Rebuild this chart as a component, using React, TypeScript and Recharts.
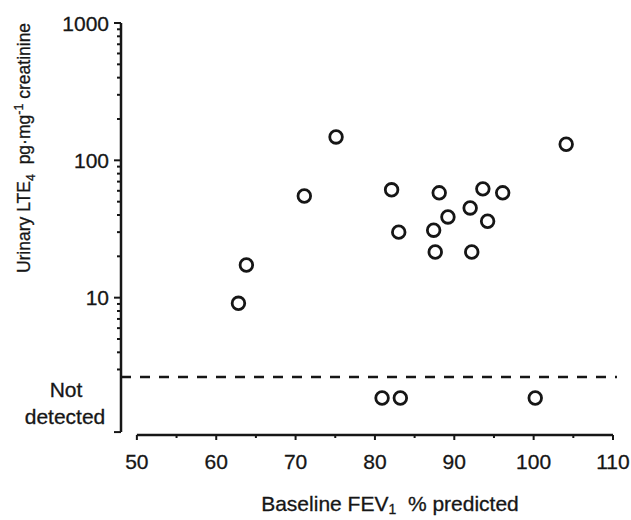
import React from 'react'
import { ScatterChart, Scatter, XAxis, YAxis, ReferenceLine } from 'recharts'

// baseline FEV1 (% predicted) vs urinary LTE4 (pg/mg creatinine)
const fevDetected = [75.1, 104.1, 71.1, 82.1, 88.1, 93.6, 96.1, 92.0, 89.2, 94.2, 83.0, 87.4, 87.6, 92.2, 63.8, 62.8]
const lteDetected = [148, 131, 55, 61, 58, 62, 58, 45, 38.7, 36, 30, 31, 21.5, 21.5, 17.3, 9.1]
const fevNotDetected = [80.9, 83.2, 100.2]
const notDetectedLevel = 1.86
const detectionLimit = 2.64

const xMin = 48
const xMax = 110
const xTicks = [50, 55, 60, 65, 70, 75, 80, 85, 90, 95, 100, 105, 110]
const xLabelled = [50, 60, 70, 80, 90, 100, 110]
const yBottom = 1.05
const yTicks = [yBottom, 3, 4, 5, 6, 7, 8, 9, 10, 20, 30, 40, 50, 60, 70, 80, 90, 100, 200, 300, 400, 500, 600, 700, 800, 900, 1000]
const yLabelled = [10, 100, 1000]

const detected = fevDetected.map((fev, i) => ({ fev, lte: lteDetected[i] }))
const notDetected = fevNotDetected.map(fev => ({ fev, lte: notDetectedLevel }))

const INK = '#161616'
const FONT = '"Liberation Sans", Arial, Helvetica, sans-serif'
const textStyle = { whiteSpace: 'pre' as const }

const Ring = (p: any) => (
  <circle cx={p.cx} cy={p.cy} r={6.3} fill="#fff" stroke={INK} strokeWidth={2.8}/>
)

const XTick = ({ x, y, payload }: any) => {
  const v = payload.value
  const major = xLabelled.includes(v)
  return (
    <g>
      <line x1={x} x2={x} y1={y} y2={y + (major ? 5 : 3)} stroke={INK} strokeWidth={2}/>
      {major && (
        <text x={x} y={y + 26} textAnchor="middle" dominantBaseline="central"
          fontFamily={FONT} fontSize={21} fill={INK} stroke={INK} strokeWidth={0.3}>{v}</text>
      )}
    </g>
  )
}

const YTick = ({ x, y, payload }: any) => {
  const v = payload.value
  const major = yLabelled.includes(v) || v === yBottom
  return (
    <g>
      <line x1={x} x2={x - (major ? 7 : 4)} y1={y} y2={y} stroke={INK} strokeWidth={2}/>
      {yLabelled.includes(v) && (
        <text x={x - 12} y={y} textAnchor="end" dominantBaseline="central"
          fontFamily={FONT} fontSize={21} fill={INK} stroke={INK} strokeWidth={0.3}>{v}</text>
      )}
    </g>
  )
}

const YTitle = () => (
  <g fill={INK} stroke={INK} strokeWidth={0.3} fontFamily={FONT}>
    <text transform="translate(30,148) rotate(-90)" textAnchor="middle" fontSize={17.5} style={textStyle}>
      Urinary LTE<tspan fontSize={12.5} dy={5}>4</tspan>
      <tspan dy={-5}>{'  pg\u00b7mg'}</tspan>
      <tspan fontSize={12.5} dy={-7}>-1</tspan>
      <tspan dy={7}>{' creatinine'}</tspan>
    </text>
    <text x={66} y={389} textAnchor="middle" dominantBaseline="central" fontSize={21}>Not</text>
    <text x={65} y={416} textAnchor="middle" dominantBaseline="central" fontSize={21}>detected</text>
  </g>
)

const XTitle = () => (
  <text x={390} y={503} textAnchor="middle" dominantBaseline="central" fontFamily={FONT} fontSize={21}
    fill={INK} stroke={INK} strokeWidth={0.3} style={textStyle}>
    Baseline FEV<tspan fontSize={14} dy={6}>1</tspan>
    <tspan dy={-6}>{'  % predicted'}</tspan>
  </text>
)

export default function App() {
  return (
    <div style={{ position: 'absolute', left: 0, top: 0, width: 631, height: 520, background: '#fff' }}>
      <ScatterChart width={631} height={520} margin={{ top: 23, right: 18, bottom: 0, left: 0 }}>
        <XAxis type="number" dataKey="fev" domain={[xMin, xMax]} ticks={xTicks} interval={0}
          allowDataOverflow axisLine={false} tickLine={false} tickSize={0} tickMargin={0}
          height={85} tick={<XTick/>} label={<XTitle/>}/>
        <YAxis type="number" dataKey="lte" scale="log" domain={[1, 1000]} ticks={yTicks} interval={0}
          allowDataOverflow axisLine={false} tickLine={false} tickSize={0} tickMargin={0}
          width={121} tick={<YTick/>} label={<YTitle/>}/>
        <ReferenceLine segment={[{ x: xMin, y: yBottom }, { x: xMin, y: 1000 }]} stroke={INK} strokeWidth={2.5} ifOverflow="visible"/>
        <ReferenceLine segment={[{ x: 50, y: 1 }, { x: 110, y: 1 }]} stroke={INK} strokeWidth={2.5} ifOverflow="visible"/>
        <ReferenceLine segment={[{ x: xMin, y: detectionLimit }, { x: 110.5, y: detectionLimit }]} stroke={INK}
          strokeWidth={2.5} strokeDasharray="10 9" ifOverflow="visible"/>
        <Scatter data={detected} shape={Ring} isAnimationActive={false}/>
        <Scatter data={notDetected} shape={Ring} isAnimationActive={false}/>
      </ScatterChart>
    </div>
  )
}
